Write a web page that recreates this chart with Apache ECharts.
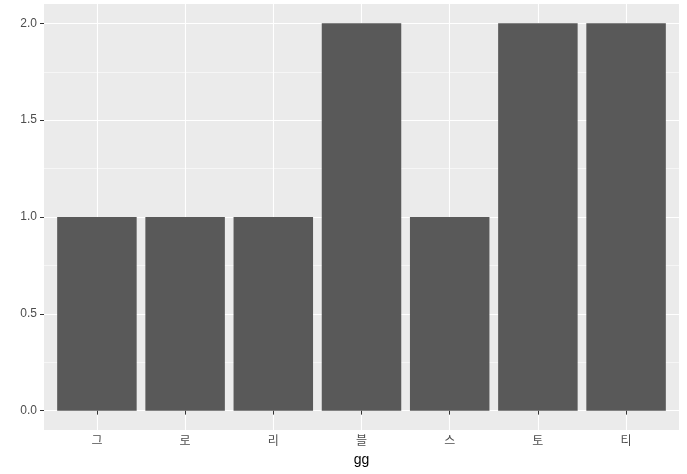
<!DOCTYPE html>
<html><head><meta charset="utf-8">
<script src="https://cdn.jsdelivr.net/npm/echarts@6/dist/echarts.min.js"></script>
<style>html,body{margin:0;padding:0;background:#fff}#c{width:687px;height:474px}</style>
</head><body><div id="c"></div>
<script>
var categories = ['그','로','리','블','스','토','티'];
var values = [1, 1, 1, 2, 1, 2, 2];
var yTicks = [0, 0.5, 1, 1.5, 2];
var yMinor = [0.25, 0.75, 1.25, 1.75];
var xPos = categories.map(function(c, i){ return i + 1; });

var chart = echarts.init(document.getElementById('c'));
var font = '"Liberation Sans","Noto Sans CJK KR",Arial,sans-serif';
chart.setOption({
  animation: false,
  grid: {left: 44, right: 8, top: 4, bottom: 44, show: true, backgroundColor: '#EBEBEB', borderWidth: 0},
  xAxis: {
    type: 'value', min: 0.4, max: 7.6,
    name: 'gg', nameLocation: 'middle', nameGap: 23,
    nameTextStyle: {color: '#000', fontSize: 14, fontFamily: font},
    axisLine: {show: false},
    axisTick: {show: true, length: 4, customValues: xPos, lineStyle: {color: '#333', width: 1}},
    axisLabel: {customValues: xPos, color: '#4D4D4D', fontSize: 12, fontFamily: font, margin: 6,
      formatter: function(v){ return categories[Math.round(v) - 1] || ''; }},
    splitLine: {show: true, lineStyle: {color: '#fff', width: 1.1}}
  },
  yAxis: [{
    type: 'value', min: -0.1, max: 2.1,
    axisLine: {show: false},
    axisTick: {show: true, length: 4, customValues: yTicks, lineStyle: {color: '#333', width: 1}},
    axisLabel: {customValues: yTicks, color: '#4D4D4D', fontSize: 12, fontFamily: font, margin: 7,
      formatter: function(v){ return v.toFixed(1); }},
    splitLine: {show: true, lineStyle: {color: '#fff', width: 1.1}}
  }, {
    type: 'value', min: -0.1, max: 2.1, position: 'left',
    axisLine: {show: false},
    axisTick: {show: false, customValues: yMinor},
    axisLabel: {show: false, customValues: yMinor},
    splitLine: {show: true, lineStyle: {color: '#fff', width: 0.55}}
  }],
  series: [{
    type: 'bar',
    data: xPos.map(function(x, i){ return [x, values[i]]; }),
    barWidth: 79.5,
    itemStyle: {color: '#595959'},
    silent: true
  }]
});
</script></body></html>
